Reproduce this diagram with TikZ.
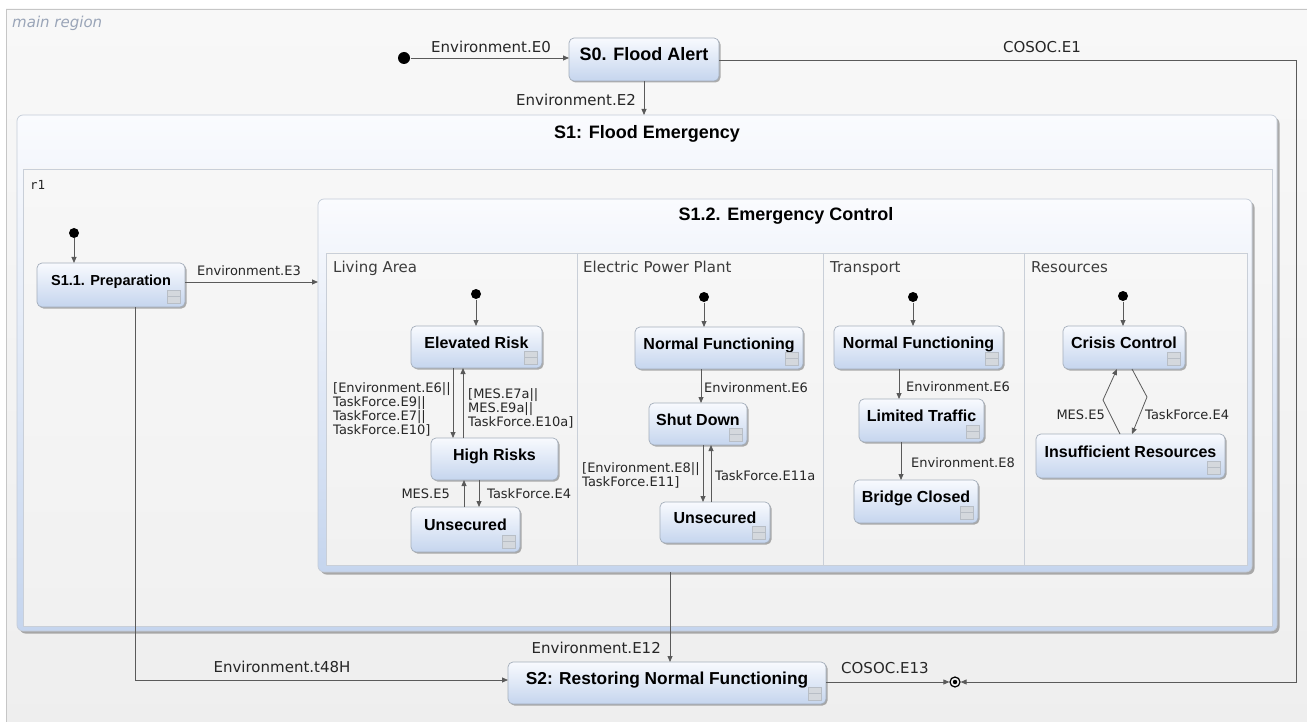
\documentclass[tikz,border=0pt]{standalone}
\usepackage{fontspec}
\setmainfont{DejaVu Sans}
\newfontfamily\statefont{Liberation Sans}
\newfontfamily\regmono{DejaVu Sans Mono}
\usetikzlibrary{arrows.meta,shadows,calc}
\definecolor{sttop}{HTML}{F8FAFE}
\definecolor{stbot}{HTML}{C5D5EE}
\definecolor{stborder}{HTML}{A4AEBB}
\definecolor{comptop}{HTML}{FAFBFE}
\definecolor{compborder}{HTML}{C4CCD8}
\definecolor{regborder}{HTML}{C9CFD8}
\definecolor{regtop}{HTML}{F7F7F7}
\definecolor{regbot}{HTML}{F1F1F1}
\definecolor{linec}{HTML}{5A5A5A}
\definecolor{lblc}{HTML}{262626}
\definecolor{mainlbl}{HTML}{9AA5B8}
\definecolor{iconf}{HTML}{D4D8DD}
\definecolor{iconb}{HTML}{B8BEC6}
\definecolor{bgtop}{HTML}{F8F8F8}
\definecolor{bgbot}{HTML}{EEEEEE}
\definecolor{mainborder}{HTML}{C6C6C6}
\newcommand\setfs[1]{\fontsize{#1}{#1}\selectfont}
\newcommand\stnode[7]{%
  \node[statebox,minimum width={#4-#2},minimum height={#5-#3}] (#1) at ({(#2+#4)/2},{(#3+#5)/2}) {};
  \node[font=\statefont\bfseries\setfs{#6},anchor=base,inner sep=0pt] at ([yshift=-1pt]#1.center) {#7};}
\newcommand\sticon[1]{%
  \draw[draw=iconb,fill=iconf,line width=0.5pt] ($(#1.south east)+(-18,-17)$) rectangle ++(13,13);
  \draw[draw=iconb,line width=0.5pt] ($(#1.south east)+(-18,-10.5)$) -- ++(13,0);}
\begin{document}
\begin{tikzpicture}[x=1pt,y=-1pt,
  statebox/.style={draw=stborder,line width=0.7pt,rounded corners=5pt,top color=sttop,bottom color=stbot,
    drop shadow={shadow xshift=1.5pt,shadow yshift=-1.5pt,opacity=0.3,fill=black},inner sep=0pt,outer sep=0pt},
  compbox/.style={draw=compborder,line width=0.7pt,rounded corners=6pt,top color=comptop,bottom color=stbot,
    drop shadow={shadow xshift=2.5pt,shadow yshift=-2.5pt,opacity=0.3,fill=black},inner sep=0pt,outer sep=0pt},
  region/.style={draw=regborder,line width=0.6pt,top color=regtop,bottom color=regbot},
  initdot/.style={circle,fill=black,inner sep=0pt,minimum size=10pt,outer sep=0.5pt},
  arr/.style={draw=linec,line width=0.8pt,-{Triangle[length=6pt,width=5pt]}},
  lbl/.style={font=\setfs{13},text=lblc,inner sep=0pt},
  toplbl/.style={font=\setfs{15},text=lblc,inner sep=0pt},
  reglbl/.style={font=\setfs{15},text=lblc!90,inner sep=0pt},
  title/.style={font=\statefont\bfseries\setfs{18},inner sep=0pt,anchor=base}]
\useasboundingbox (0,0) rectangle (1307,722);
\clip (0,0) rectangle (1307,722);
% main region
\fill[white] (0,0) rectangle (1307,722);
\draw[draw=mainborder,line width=0.8pt,top color=bgtop,bottom color=bgbot] (6,9) rectangle (1330,740);
\node[font=\itshape\setfs{15},text=mainlbl,anchor=base west,inner sep=0pt] (mainr) at (12,28) {main region};
% S1 composite
\node[compbox,minimum width=1260,minimum height=516] (s1) at (647,373) {};
\node[title] (s1t) at (647,138.5) {S1: Flood Emergency};
\draw[region] (23,169) rectangle (1272,626);
\node[font=\regmono\setfs{12.5},text=lblc,anchor=base west,inner sep=0pt] (r1l) at (30,190) {r1};
% S1.2 composite
\node[compbox,minimum width=934,minimum height=373] (s12) at (785,385.5) {};
\node[title] (s12t) at (786,220.5) {S1.2. Emergency Control};
\draw[region] (326,253) rectangle (1247,565);
\draw[draw=regborder,line width=0.6pt] (577,253) -- (577,565) (823,253) -- (823,565) (1024,253) -- (1024,565);
\node[reglbl,anchor=base west] (rl1) at (333,272.5) {Living Area};
\node[reglbl,anchor=base west] (rl2) at (583,272.5) {Electric Power Plant};
\node[reglbl,anchor=base west] (rl3) at (830,272.5) {Transport};
\node[reglbl,anchor=base west] (rl4) at (1031,272.5) {Resources};
% states
\stnode{s0}{569}{38}{719}{81}{18}{S0. Flood Alert}
\stnode{s11}{37}{263}{185}{307}{14.5}{S1.1. Preparation}\sticon{s11}
\stnode{er}{411}{326}{542}{368}{16}{Elevated Risk}\sticon{er}
\stnode{hr}{431}{438}{558}{480}{16}{High Risks}
\stnode{lu}{411}{507}{520}{552}{16}{Unsecured}\sticon{lu}
\stnode{pnf}{635}{327}{803}{369}{16}{Normal Functioning}\sticon{pnf}
\stnode{sd}{649}{403}{747}{445}{16}{Shut Down}\sticon{sd}
\stnode{pu}{660}{502}{770}{543}{16}{Unsecured}\sticon{pu}
\stnode{tnf}{834}{326}{1003}{369}{16}{Normal Functioning}\sticon{tnf}
\stnode{lt}{859}{399}{984}{442}{16}{Limited Traffic}\sticon{lt}
\stnode{bc}{854}{480}{978}{523}{16}{Bridge Closed}\sticon{bc}
\stnode{cc}{1063}{326}{1185}{369}{16}{Crisis Control}\sticon{cc}
\stnode{ir}{1036}{434}{1225}{478}{16}{Insufficient Resources}\sticon{ir}
\stnode{s2}{508}{662}{826}{704}{17.3}{S2: Restoring Normal Functioning}\sticon{s2}
% initial states
\node[initdot,minimum size=12pt] (i0) at (404,58) {};
\node[initdot] (i11) at (74,233) {};
\node[initdot] (ila) at (476,294) {};
\node[initdot] (ipp) at (704,297) {};
\node[initdot] (itr) at (913,297) {};
\node[initdot] (irs) at (1123,296) {};
% final state
\node[circle,draw=black,line width=1.2pt,minimum size=10pt,inner sep=0pt,outer sep=0.6pt] (fin) at (955,682) {};
\fill[black] (fin.center) circle (2.2pt);
% top-level connectors
\draw[arr] (i0) -- (i0 -| s0.west);
\node[toplbl,anchor=base] (le0) at (491,52.5) {Environment.E0};
\draw[arr] (s0.south) -- (s0.south |- s1.north);
\node[toplbl,anchor=base east] (le2) at (636,106) {Environment.E2};
\coordinate (c1) at (1296,60);
\coordinate (c2) at (1296,682);
\draw[arr] (s0.east |- c1) -- (c1) -- (c2) -- (fin.east);
\node[toplbl,anchor=base] (le1) at (1042,53) {COSOC.E1};
\draw[arr] (i11) -- (i11 |- s11.north);
\coordinate (c3) at (185,282);
\draw[arr] (c3) -- (c3 -| s12.west);
\node[lbl,anchor=base] (le3) at (249,276) {Environment.E3};
\coordinate (c4) at (135,680);
\draw[arr] (c4 |- s11.south) -- (c4) -- (c4 -| s2.west);
\node[toplbl,anchor=base] (lt48) at (282,672) {Environment.t48H};
\coordinate (c5) at (670,0);
\draw[arr] (c5 |- s12.south) -- (c5 |- s2.north);
\node[toplbl,anchor=base east] (le12) at (661,653) {Environment.E12};
\draw[arr] (s2.east |- fin) -- (fin.west);
\node[toplbl,anchor=base west] (le13) at (841,673) {COSOC.E13};
% living area
\draw[arr] (ila) -- (ila |- er.north);
\coordinate (a1) at (453,0);
\coordinate (a2) at (463,0);
\coordinate (a3) at (464,0);
\coordinate (a4) at (479,0);
\draw[arr] (a1 |- er.south) -- (a1 |- hr.north);
\draw[arr] (a2 |- hr.north) -- (a2 |- er.south);
\draw[arr] (a3 |- lu.north) -- (a3 |- hr.south);
\draw[arr] (a4 |- hr.south) -- (a4 |- lu.north);
\node[lbl,anchor=north west,align=left,font=\fontsize{13}{12.8}\selectfont] (lla) at (333,382) {[Environment.E6||\\TaskForce.E9||\\TaskForce.E7||\\TaskForce.E10]};
\node[lbl,anchor=north west,align=left,font=\fontsize{13}{12.6}\selectfont] (llb) at (468,388) {[MES.E7a||\\MES.E9a||\\TaskForce.E10a]};
\node[lbl,anchor=base east] (llc) at (450,498) {MES.E5};
\node[lbl,anchor=base west] (lld) at (487,498) {TaskForce.E4};
% power plant
\coordinate (p0) at (703,0);
\coordinate (p1) at (701,0);
\coordinate (p2) at (703,0);
\coordinate (p3) at (711,0);
\draw[arr] (ipp) -- (ipp |- pnf.north);
\draw[arr] (p1 |- pnf.south) -- (p1 |- sd.north);
\draw[arr] (p2 |- sd.south) -- (p2 |- pu.north);
\draw[arr] (p3 |- pu.north) -- (p3 |- sd.south);
\node[lbl,anchor=base west] (lpa) at (704,392) {Environment.E6};
\node[lbl,anchor=north west,align=left,font=\fontsize{13}{12.7}\selectfont] (lpb) at (582,462) {[Environment.E8||\\TaskForce.E11]};
\node[lbl,anchor=base west] (lpc) at (715,480.5) {TaskForce.E11a};
% transport
\coordinate (t1) at (899,0);
\coordinate (t2) at (901,0);
\draw[arr] (itr) -- (itr |- tnf.north);
\draw[arr] (t1 |- tnf.south) -- (t1 |- lt.north);
\draw[arr] (t2 |- lt.south) -- (t2 |- bc.north);
\node[lbl,anchor=base west] (lta) at (906,391.5) {Environment.E6};
\node[lbl,anchor=base west] (ltb) at (911,467.5) {Environment.E8};
% resources
\draw[arr] (irs) -- (irs |- cc.north);
\coordinate (r1a) at (1120,0);
\coordinate (r1b) at (1103,400);
\coordinate (r1c) at (1117,0);
\coordinate (r2a) at (1132,0);
\coordinate (r2b) at (1147,397);
\draw[arr] (r1a |- ir.north) -- (r1b) -- (r1c |- cc.south);
\draw[arr] (r2a |- cc.south) -- (r2b) -- (r2a |- ir.north);
\node[lbl,anchor=base east] (lra) at (1105,419.5) {MES.E5};
\node[lbl,anchor=base west] (lrb) at (1145,419.5) {TaskForce.E4};
\end{tikzpicture}
\end{document}
